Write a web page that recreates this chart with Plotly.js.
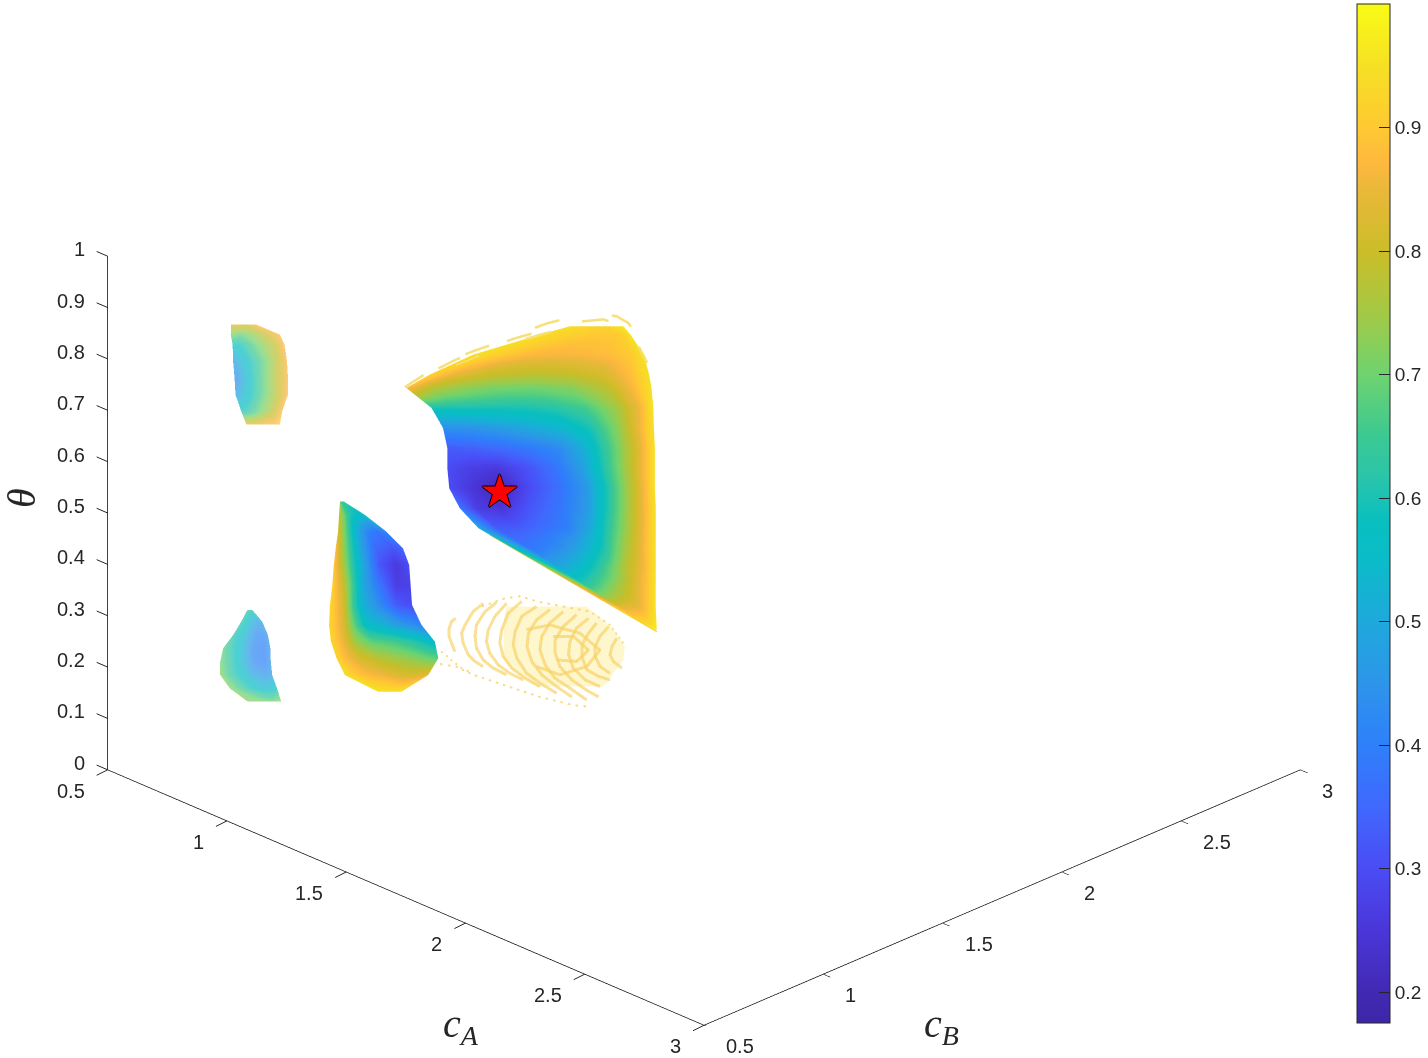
<!DOCTYPE html>
<html>
<head>
<meta charset="utf-8">
<script src="https://cdn.plot.ly/plotly-3.0.1.min.js"></script>
<style>html,body{margin:0;padding:0;background:#fff}</style>
</head>
<body>
<div id="chart" style="width:1428px;height:1058px"></div>
<script>
// values. depth along the view is not readable, so cB = cA
let star_ca = [1.322];
let star_theta = [0.542];

let main_theta = [0.8636,0.8473,0.8083,0.7694,0.7434,0.7044,0.6654,0.6264,0.5874,0.5484,0.5094,0.4705,0.4315,0.3925,0.3535,0.3145,0.2723];
let main_ca = [
  [1.469,1.483,1.497,1.511,1.525,1.539,1.553,1.567,1.581],
  [1.406,1.434,1.462,1.490,1.518,1.546,1.567,1.584,1.596],
  [1.266,1.308,1.350,1.392,1.441,1.497,1.553,1.595,1.624],
  [1.175,1.224,1.273,1.329,1.399,1.469,1.539,1.595,1.635],
  [1.126,1.175,1.231,1.301,1.385,1.469,1.546,1.602,1.640],
  [1.179,1.231,1.301,1.371,1.441,1.504,1.567,1.616,1.644],
  [1.203,1.259,1.315,1.385,1.455,1.511,1.567,1.616,1.645],
  [1.212,1.266,1.322,1.385,1.448,1.504,1.560,1.616,1.647],
  [1.212,1.266,1.315,1.378,1.441,1.497,1.553,1.612,1.647],
  [1.216,1.266,1.322,1.385,1.448,1.504,1.560,1.612,1.647],
  [1.238,1.273,1.322,1.385,1.448,1.504,1.560,1.612,1.649],
  [1.277,1.315,1.357,1.406,1.462,1.511,1.560,1.612,1.649],
  [1.349,1.385,1.420,1.462,1.504,1.539,1.574,1.616,1.649],
  [1.421,1.448,1.476,1.504,1.532,1.560,1.588,1.623,1.649],
  [1.494,1.511,1.532,1.553,1.574,1.595,1.616,1.633,1.649],
  [1.566,1.577,1.588,1.598,1.609,1.619,1.630,1.640,1.649],
  [1.644,1.645,1.646,1.646,1.647,1.648,1.649,1.650,1.651]
];
let main_val = [
  [.95,.94,.93,.93,.92,.92,.93,.95,.96],
  [.95,.93,.92,.91,.90,.90,.90,.92,.96],
  [.95,.92,.89,.87,.865,.87,.88,.90,.95],
  [.92,.85,.81,.79,.78,.79,.82,.88,.95],
  [.88,.78,.74,.71,.70,.72,.78,.87,.95],
  [.60,.60,.60,.60,.62,.66,.75,.86,.96],
  [.44,.45,.47,.50,.54,.60,.72,.86,.95],
  [.33,.34,.36,.39,.43,.53,.68,.84,.95],
  [.30,.27,.26,.31,.38,.48,.65,.83,.95],
  [.30,.25,.20,.30,.37,.46,.65,.82,.95],
  [.38,.27,.25,.32,.38,.46,.65,.82,.95],
  [.50,.33,.33,.36,.40,.50,.66,.82,.95],
  [.60,.38,.41,.45,.52,.60,.72,.84,.95],
  [.75,.50,.53,.57,.63,.70,.78,.86,.95],
  [.88,.65,.68,.72,.76,.80,.85,.90,.96],
  [.92,.85,.85,.85,.85,.86,.89,.92,.96],
  [.97,.97,.97,.97,.97,.97,.97,.97,.97]
];

// pale broken rows along the top of the big lobe
let fringe_ca = [
  1.123,1.161,1.207,1.266,1.322,1.371,1.420,1.476,1.525,1.567,1.591,1.612,1.628,null,
  1.175,1.231,1.294,1.357,1.420,1.483,1.539,1.581,1.609,1.633,null,
  1.147,1.203,1.273,1.336,1.406,1.476,1.539
];
let fringe_theta = [
  .745,.768,.793,.815,.833,.852,.869,.882,.888,.883,.870,.844,.815,null,
  .773,.799,.821,.841,.857,.872,.877,.864,.831,.789,null,
  .750,.779,.805,.828,.847,.864,.867
];
// thin yellow rim on the long lower edge
let rim_ca = [1.301,1.651];
let rim_theta = [.4573,.2688];

let low_theta = [0.5224,0.4964,0.4639,0.4314,0.3989,0.3600,0.3210,0.2820,0.2495,0.2170,0.1845,0.1520];
let low_ca = [
  [.987,.988,.989,.991,.992,.994,.995],
  [.985,.994,1.001,1.011,1.021,1.032,1.039],
  [.983,.994,1.008,1.021,1.042,1.063,1.084],
  [.978,.994,1.011,1.029,1.063,1.098,1.119],
  [.974,.994,1.014,1.035,1.070,1.105,1.132],
  [.971,.994,1.014,1.035,1.070,1.105,1.135],
  [.966,.994,1.014,1.035,1.070,1.105,1.138],
  [.964,.994,1.014,1.042,1.077,1.119,1.158],
  [.968,.994,1.021,1.056,1.098,1.140,1.186],
  [.980,1.001,1.029,1.063,1.105,1.147,1.193],
  [.997,1.021,1.049,1.084,1.119,1.147,1.172],
  [1.067,1.075,1.083,1.091,1.100,1.108,1.116]
];
let low_val = [
  [.75,.68,.66,.65,.64,.64,.65],
  [.78,.72,.65,.60,.58,.55,.58],
  [.82,.73,.62,.52,.42,.38,.42],
  [.88,.74,.62,.50,.35,.32,.35],
  [.90,.76,.62,.50,.32,.26,.30],
  [.92,.80,.65,.50,.38,.27,.28],
  [.93,.82,.65,.52,.43,.33,.30],
  [.93,.83,.70,.56,.52,.46,.42],
  [.93,.85,.74,.68,.66,.62,.55],
  [.92,.87,.82,.78,.75,.72,.68],
  [.95,.90,.87,.85,.82,.82,.85],
  [.96,.95,.95,.95,.95,.95,.96]
];

let top_theta = [0.8668,0.8473,0.8278,0.7953,0.7628,0.7304,0.6979,0.6719];
let top_ca = [
  [.759,.770,.784,.798,.805,.812],
  [.758,.777,.798,.819,.840,.861],
  [.762,.780,.801,.822,.847,.871],
  [.763,.780,.801,.826,.850,.876],
  [.766,.780,.801,.826,.854,.878],
  [.768,.784,.805,.826,.850,.878],
  [.780,.794,.808,.826,.847,.866],
  [.791,.805,.819,.833,.847,.861]
];
let top_val = [
  [.80,.85,.80,.82,.85,.88],
  [.72,.68,.72,.76,.82,.87],
  [.58,.60,.66,.72,.78,.88],
  [.47,.52,.60,.68,.76,.87],
  [.42,.48,.58,.68,.78,.87],
  [.48,.52,.60,.68,.76,.88],
  [.60,.62,.66,.72,.78,.88],
  [.85,.85,.85,.88,.88,.90]
];

let side_theta = [0.3113,0.2885,0.2625,0.2365,0.2105,0.1846,0.1586,0.1326];
let side_ca = [
  [.793,.795,.797,.799,.801,.803],
  [.780,.791,.801,.812,.819,.824],
  [.763,.780,.798,.812,.826,.836],
  [.742,.763,.784,.805,.826,.841],
  [.736,.759,.784,.808,.829,.842],
  [.736,.759,.784,.808,.829,.845],
  [.756,.777,.798,.819,.836,.855],
  [.794,.808,.822,.836,.850,.864]
];
let side_val = [
  [.62,.62,.62,.62,.62,.62],
  [.62,.58,.52,.48,.47,.50],
  [.62,.56,.48,.42,.42,.46],
  [.68,.60,.52,.42,.40,.45],
  [.70,.62,.52,.42,.40,.45],
  [.72,.63,.56,.48,.45,.48],
  [.72,.66,.60,.56,.54,.58],
  [.72,.72,.72,.70,.70,.74]
];

// faint dense right half of the pale oval, the rings below are drawn over it
let haze_theta = [0.3177,0.2917,0.2657,0.2397,0.2137,0.1878,0.1618];
let haze_ca = [
  [1.336,1.380,1.420,1.460,1.490,1.504],
  [1.330,1.370,1.410,1.450,1.500,1.539],
  [1.330,1.380,1.430,1.480,1.530,1.567],
  [1.330,1.380,1.430,1.490,1.540,1.584],
  [1.330,1.380,1.440,1.500,1.540,1.581],
  [1.360,1.400,1.440,1.480,1.520,1.560],
  [1.400,1.430,1.460,1.490,1.520,1.539]
];
let haze_val = [
  [.93,.93,.93,.93,.93,.93],
  [.93,.93,.93,.93,.93,.93],
  [.93,.93,.93,.93,.93,.93],
  [.93,.93,.93,.93,.93,.93],
  [.93,.93,.93,.93,.93,.93],
  [.93,.93,.93,.93,.93,.93],
  [.93,.93,.93,.93,.93,.93]
];

// the pale oval is a set of rings, null breaks one ring from the next
let oval_ca = [
  1.230,1.221,1.216,1.216,1.221,1.228,null,
  1.287,1.266,1.249,1.242,1.245,1.256,1.270,1.287,null,
  1.315,1.291,1.273,1.270,1.273,1.287,1.308,1.336,null,
  1.336,1.312,1.298,1.294,1.301,1.319,1.343,1.371,null,
  1.368,1.340,1.326,1.322,1.329,1.347,1.375,1.406,null,
  1.399,1.368,1.354,1.350,1.358,1.378,1.406,1.441,null,
  1.427,1.399,1.382,1.379,1.389,1.410,1.441,1.473,null,
  1.455,1.427,1.410,1.406,1.417,1.438,1.469,1.504,null,
  1.483,1.455,1.438,1.438,1.448,1.473,1.504,1.529,null,
  1.508,1.483,1.469,1.466,1.476,1.501,1.532,null,
  1.525,1.508,1.494,1.494,1.504,1.529,1.553,null,
  1.550,1.532,1.522,1.522,1.532,1.553,null,
  1.567,1.557,1.553,1.560,1.578,null,
  1.378,1.427,1.490,1.532,1.504,1.448,1.399,null,
  1.434,1.476,1.508,1.483,1.441
];
let oval_theta = [
  .295,.289,.276,.259,.246,.230,null,
  .324,.308,.282,.266,.247,.224,.211,.201,null,
  .326,.308,.282,.260,.237,.214,.198,.185,null,
  .324,.299,.273,.250,.227,.204,.188,.175,null,
  .328,.305,.273,.247,.221,.198,.178,.162,null,
  .318,.299,.269,.243,.217,.188,.169,.149,null,
  .312,.292,.266,.240,.211,.185,.162,.142,null,
  .308,.286,.260,.234,.204,.178,.159,.136,null,
  .302,.279,.253,.227,.201,.175,.155,.142,null,
  .295,.276,.250,.224,.198,.175,.162,null,
  .286,.266,.243,.221,.195,.182,.175,null,
  .279,.260,.240,.221,.201,.188,null,
  .256,.240,.224,.211,.198,null,
  .273,.282,.266,.233,.201,.185,.201,null,
  .260,.260,.233,.211,.214
];
// broken outer rows of the oval
let rim_oval_ca = [
  1.284,1.333,1.364,1.399,1.455,1.511,1.553,1.585,null,
  1.196,1.231,1.266,1.308,1.350,1.406,1.476,1.508,null,
  1.196,1.224,1.242,1.266
];
let rim_oval_theta = [
  .318,.334,.338,.328,.318,.308,.282,.241,null,
  .206,.201,.185,.172,.159,.142,.126,.123,null,
  .233,.211,.198,.188
];

let ca_ticks = [.5,1,1.5,2,2.5,3];
let theta_ticks = [0,.1,.2,.3,.4,.5,.6,.7,.8,.9,1];
let bar_ticks = [.2,.3,.4,.5,.6,.7,.8,.9];
let c_min = .175;
let c_max = 1;
let parula_vals = [.175,.2,.25,.3,.35,.4,.45,.5,.55,.58,.62,.65,.7,.75,.8,.85,.87,.9,.95,1];
let parula_cols = ["#3e26a8","#4229b4","#4a36d8","#4a4cf5","#4068fd","#2e80fa","#2d95ea","#1ea9dc","#0bbcc8","#08bfc0","#2cc5a8","#3bc992","#6ed36f","#a4c945","#cbbd28","#eab83a","#fdb83e","#fec932","#f6e024","#f9fb15"];

let tick_font = {family: 'Liberation Sans', size: 20, color: '#262626'};

function sheet(theta, ca, val, op) {
    return {
        type: 'surface',
        x: ca,
        y: ca,
        z: theta.map((t, i) => ca[i].map(() => t)),
        surfacecolor: val,
        coloraxis: 'coloraxis',
        opacity: op,
        hoverinfo: 'skip',
        lighting: {ambient: 1, diffuse: 0, specular: 0, roughness: 1, fresnel: 0}
    };
}

function strokes(ca, theta, color, width, dash, op) {
    return {
        type: 'scatter3d',
        mode: 'lines',
        x: ca,
        y: ca,
        z: theta,
        connectgaps: false,
        opacity: op,
        line: {color: color, width: width, dash: dash},
        hoverinfo: 'skip'
    };
}

function axis3d(lo, hi, step) {
    return {
        range: [lo, hi],
        dtick: step,
        tick0: 0,
        title: {text: ''},
        showgrid: false,
        zeroline: false,
        showbackground: false,
        showspikes: false,
        showline: true,
        linecolor: '#000',
        linewidth: 1.5,
        ticks: '',
        showticklabels: false
    };
}

// tick labels and tick marks sit beside each axis as scene annotations
function tickLabels() {
    let a = ca_ticks.map(v => ({x: v, y: .5, z: 0, text: String(v), xanchor: 'right', xshift: -21, yshift: -21}));
    let b = ca_ticks.map(v => ({x: 3, y: v, z: 0, text: String(v), xanchor: 'left', xshift: 20, yshift: -21}));
    let t = theta_ticks.map(v => ({x: .5, y: .5, z: v, text: String(v), xanchor: 'right', xshift: -21, yshift: 7}));
    return [...a, ...b, ...t].map(o => Object.assign(o, {showarrow: false, font: tick_font}));
}

function tickMark(x, y, z, ax, ay) {
    return {x, y, z, ax, ay, text: ' ', xanchor: 'center', yanchor: 'middle', showarrow: true, arrowhead: 0, arrowwidth: 1, arrowcolor: '#262626', standoff: 0, startstandoff: 0};
}

// the cB axis keeps its native ticks, they already point the right way
function tickMarks() {
    let a = ca_ticks.map(v => tickMark(v, .5, 0, -14, 7));
    let t = theta_ticks.map(v => tickMark(.5, .5, v, -14, -6));
    return [...a, ...t];
}

function main() {
    let data = [
        sheet(main_theta, main_ca, main_val, 1),
        sheet(low_theta, low_ca, low_val, 1),
        sheet(top_theta, top_ca, top_val, .72),
        sheet(side_theta, side_ca, side_val, .72),
        sheet(haze_theta, haze_ca, haze_val, .24),
        strokes(oval_ca, oval_theta, '#f7d36a', 6, 'solid', .7),
        strokes(rim_oval_ca, rim_oval_theta, '#f7d36a', 4, 'dash', .8),
        strokes(fringe_ca, fringe_theta, '#f7e07a', 5, 'longdash', 1),
        strokes(rim_ca, rim_theta, '#f8c52c', 2, 'solid', 1)
    ];

    let layout = {
        width: 1428,
        height: 1058,
        margin: {l: 0, r: 0, t: 0, b: 0, autoexpand: false},
        paper_bgcolor: '#fff',
        showlegend: false,
        coloraxis: {
            cmin: c_min,
            cmax: c_max,
            colorscale: parula_vals.map((v, i) => [(v - c_min) / (c_max - c_min), parula_cols[i]]),
            colorbar: {
                x: 1357 / 1428,
                xanchor: 'left',
                y: 1 - 513.5 / 1058,
                yanchor: 'middle',
                len: 1019,
                lenmode: 'pixels',
                thickness: 33,
                xpad: 0,
                ypad: 0,
                outlinecolor: '#262626',
                outlinewidth: 1,
                ticks: 'inside',
                ticklen: 11,
                tickcolor: '#262626',
                tickvals: bar_ticks,
                ticktext: bar_ticks.map(String),
                tickfont: {family: 'Liberation Sans', size: 19, color: '#262626'}
            }
        },
        scene: {
            domain: {x: [0, 1408 / 1428], y: [32 / 1058, 1]},
            aspectmode: 'manual',
            aspectratio: {x: 1.644, y: 1.644, z: 1.108},
            camera: {
                projection: {type: 'orthographic'},
                up: {x: 0, y: 0, z: 1},
                center: {x: 0, y: 0, z: 0},
                eye: {x: 1.25, y: -1.25, z: .838}
            },
            xaxis: axis3d(.5, 3, .5),
            yaxis: Object.assign(axis3d(.5, 3, .5), {ticks: 'outside', ticklen: 18, tickwidth: 1.5, tickcolor: '#000'}),
            zaxis: axis3d(0, 1, .1),
            annotations: [...tickMarks(), ...tickLabels(), {
                x: star_ca[0],
                y: star_ca[0],
                z: star_theta[0],
                text: '★',
                showarrow: false,
                font: {family: 'DejaVu Sans', size: 46, color: '#ff0000', shadow: '1px 0 0 #000,-1px 0 0 #000,0 1px 0 #000,0 -1px 0 #000'}
            }]
        },
        annotations: [
            {text: '<i>c</i><sub><i>A</i></sub>', xref: 'paper', yref: 'paper', x: 461 / 1428, y: 1 - 1026 / 1058, xanchor: 'center', yanchor: 'middle', showarrow: false,
             font: {family: 'Liberation Serif', size: 40, color: '#262626'}},
            {text: '<i>c</i><sub><i>B</i></sub>', xref: 'paper', yref: 'paper', x: 941 / 1428, y: 1 - 1026 / 1058, xanchor: 'center', yanchor: 'middle', showarrow: false,
             font: {family: 'Liberation Serif', size: 40, color: '#262626'}},
            {text: '<i>θ</i>', xref: 'paper', yref: 'paper', x: 21 / 1428, y: 1 - 498 / 1058, xanchor: 'center', yanchor: 'middle', showarrow: false, textangle: -90,
             font: {family: 'Liberation Serif', size: 40, color: '#262626'}}
        ]
    };

    Plotly.newPlot('chart', data, layout, {displayModeBar: false});
}

main();
</script>
</body>
</html>
